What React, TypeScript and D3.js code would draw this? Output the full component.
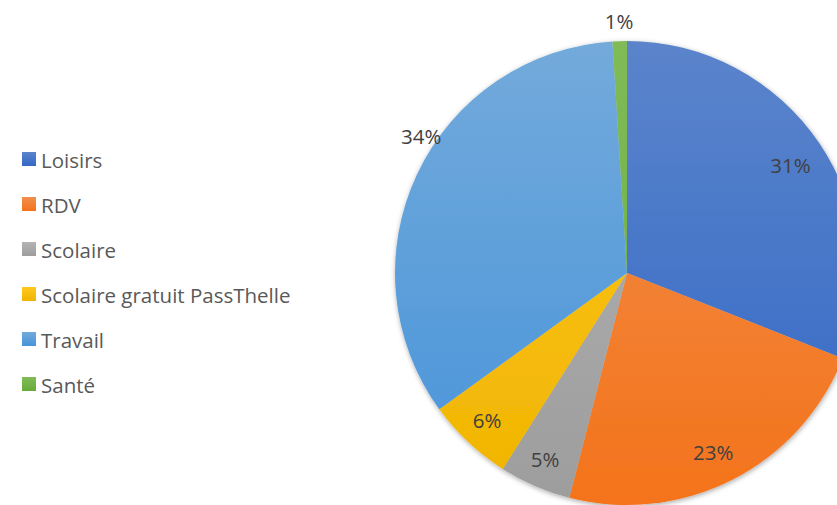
import { useEffect, useRef } from 'react'
import * as d3 from 'd3'

const categories = ['Loisirs', 'RDV', 'Scolaire', 'Scolaire gratuit PassThelle', 'Travail', 'Santé']
const values = [31, 23, 5, 6, 34, 1]
const colors = ['#4472C4', '#ED7D31', '#A5A5A5', '#FFC000', '#5B9BD5', '#70AD47']
// where each percentage label sits: fraction of the radius, and angle shift in degrees
const labelRadius = [0.845, 0.856, 0.875, 0.875, 1.065, 1.085]
const labelShift = [0.7, 1.3, 0.4, 0.4, 8.4, 0]

function topColor(c: string) {
  const h = d3.hsl(c)
  h.l = Math.min(1, h.l + 0.06)
  return h.formatHex()
}
function bottomColor(c: string) {
  const h = d3.hsl(c)
  h.l = h.l - 0.03
  h.s = Math.min(1, h.s + 0.07)
  return h.formatHex()
}

export default function App() {
  const svgRef = useRef<SVGSVGElement>(null)

  useEffect(() => {
    if (!svgRef.current) return
    const svg = d3.select(svgRef.current)
    svg.selectAll('*').remove()

    const cx = 627
    const cy = 273
    const r = 232
    const font = '"Open Sans", sans-serif'

    const defs = svg.append('defs')
    colors.forEach((c, i) => {
      // gradient in the pie group's coordinates (origin at centre)
      const g = defs.append('linearGradient')
        .attr('id', `grad-${i}`)
        .attr('gradientUnits', 'userSpaceOnUse')
        .attr('x1', 0).attr('y1', -r)
        .attr('x2', 0).attr('y2', r)
      g.append('stop').attr('offset', '0%').attr('stop-color', topColor(c))
      g.append('stop').attr('offset', '100%').attr('stop-color', bottomColor(c))

      const lg = defs.append('linearGradient').attr('id', `leg-${i}`)
        .attr('x1', 0).attr('y1', 0).attr('x2', 0).attr('y2', 1)
      lg.append('stop').attr('offset', '0%').attr('stop-color', topColor(c))
      lg.append('stop').attr('offset', '100%').attr('stop-color', bottomColor(c))
    })
    const shadow = defs.append('filter').attr('id', 'shadow')
      .attr('x', '-10%').attr('y', '-10%').attr('width', '120%').attr('height', '120%')
    shadow.append('feDropShadow')
      .attr('dx', 0.5).attr('dy', 1.5).attr('stdDeviation', 2.5)
      .attr('flood-color', '#000').attr('flood-opacity', 0.35)

    const total = d3.sum(values)
    const pie = d3.pie<number>().sort(null).value(d => d)
    const arcs = pie(values)
    const arc = d3.arc<d3.PieArcDatum<number>>().innerRadius(0).outerRadius(r)

    const g = svg.append('g').attr('transform', `translate(${cx},${cy})`)
    g.append('g').attr('filter', 'url(#shadow)')
      .selectAll('path')
      .data(arcs)
      .enter().append('path')
      .attr('d', arc)
      .attr('fill', (_, i) => `url(#grad-${i})`)

    g.selectAll('text.lbl')
      .data(arcs)
      .enter().append('text')
      .attr('class', 'lbl')
      .attr('transform', (d, i) => {
        const a = (d.startAngle + d.endAngle) / 2 + (labelShift[i] * Math.PI) / 180
        const rr = r * labelRadius[i]
        return `translate(${Math.sin(a) * rr},${-Math.cos(a) * rr})`
      })
      .attr('text-anchor', 'middle')
      .attr('dominant-baseline', 'central')
      .style('font-family', font)
      .style('font-size', '20.5px')
      .style('fill', '#404040')
      .text(d => `${Math.round((d.value / total) * 100)}%`)

    const rowY = d3.scaleLinear().domain([0, categories.length - 1]).range([159, 384])
    const legend = svg.append('g').attr('transform', 'translate(22,0)')
    categories.forEach((name, i) => {
      const row = legend.append('g').attr('transform', `translate(0,${rowY(i)})`)
      row.append('rect')
        .attr('x', 0).attr('y', -7).attr('width', 14).attr('height', 14)
        .attr('fill', `url(#leg-${i})`)
      row.append('text')
        .attr('x', 19).attr('y', 1)
        .attr('dominant-baseline', 'central')
        .style('font-family', font)
        .style('font-size', '20.5px')
        .style('fill', '#595959')
        .text(name)
    })
  }, [])

  return (
    <svg ref={svgRef} width={837} height={505}
      style={{ position: 'absolute', left: 0, top: 0, background: '#fff' }} />
  )
}
